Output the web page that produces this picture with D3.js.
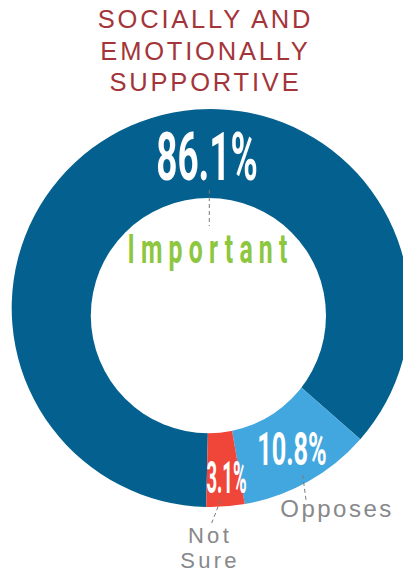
<!DOCTYPE html>
<html>
<head>
<meta charset="utf-8">
<script src="https://cdn.jsdelivr.net/npm/d3@7"></script>
<style>
  html, body { margin: 0; padding: 0; background: #fff; }
  svg { display: block; }
</style>
</head>
<body>
<svg id="chart" width="403" height="572"></svg>
<script>
// Survey answers for "socially and emotionally supportive"
const categories = ["Important", "Opposes", "Not Sure"];
const values = [86.1, 10.8, 3.1];
const colors = ["#03608f", "#42a7de", "#ef4639"];
const titleLines = ["SOCIALLY AND", "EMOTIONALLY", "SUPPORTIVE"];

const svg = d3.select("#chart");

// Title
svg.append("g").selectAll("text")
  .data(titleLines)
  .join("text")
  .attr("x", 205.5)
  .attr("y", (d, i) => 28 + i * 31.6)
  .attr("text-anchor", "middle")
  .attr("font-family", "'Liberation Sans', Arial, sans-serif")
  .attr("font-size", 25.5)
  .attr("letter-spacing", 2.8)
  .attr("fill", "#a3353a")
  .text(d => d);

// Donut
const cx = 210.7, cy = 308, rOuter = 199;
const pie = d3.pie().sort(null).value(d => d)
  .startAngle(Math.PI * 181.3 / 180)
  .endAngle(Math.PI * (181.3 + 360) / 180);
const arcs = pie(values);
const arc = d3.arc().innerRadius(0).outerRadius(rOuter);

const g = svg.append("g").attr("transform", `translate(${cx},${cy})`);
g.selectAll("path")
  .data(arcs)
  .join("path")
  .attr("d", arc)
  .attr("fill", (d, i) => colors[i]);

// Hole of the ring, sitting slightly low in the disc
svg.append("circle")
  .attr("cx", 208.4)
  .attr("cy", 315.6)
  .attr("r", 117.6)
  .attr("fill", "#fff");

// Condensed number labels
const fmt = v => d3.format(".1f")(v) + "%";
function condensed(x, y, size, sx, txt, fill) {
  svg.append("text")
    .attr("transform", `translate(${x},${y}) scale(${sx},1)`)
    .attr("text-anchor", "middle")
    .attr("font-family", "Roboto, 'DejaVu Sans', sans-serif")
    .attr("font-weight", 700)
    .attr("font-size", size)
    .attr("fill", fill)
    .text(txt);
}
condensed(207, 180, 66, 0.56, fmt(values[0]), "#fff");
condensed(292, 465, 46, 0.55, fmt(values[1]), "#fff");
condensed(226.5, 493.3, 44, 0.42, fmt(values[2]), "#fff");

// Leader lines
const leaders = [
  [[209.3, 190], [209.3, 226]],
  [[302.7, 475], [306, 500]],
  [[220.7, 500], [211.7, 523]]
];
svg.append("g").selectAll("line")
  .data(leaders)
  .join("line")
  .attr("x1", d => d[0][0]).attr("y1", d => d[0][1])
  .attr("x2", d => d[1][0]).attr("y2", d => d[1][1])
  .attr("stroke", "#7a7a7a")
  .attr("stroke-width", 1)
  .attr("stroke-dasharray", "4,3");

// Category names
svg.append("text")
  .attr("transform", "translate(210.5,263.3) scale(0.62,1)")
  .attr("text-anchor", "middle")
  .attr("font-family", "Roboto, sans-serif")
  .attr("font-weight", 700)
  .attr("font-size", 40)
  .attr("letter-spacing", 10)
  .attr("fill", "#8dc63f")
  .text(categories[0]);

const grey = "#87888a";
svg.append("text")
  .attr("x", 337)
  .attr("y", 517.3)
  .attr("text-anchor", "middle")
  .attr("font-family", "'Liberation Sans', Arial, sans-serif")
  .attr("font-size", 24)
  .attr("letter-spacing", 2.5)
  .attr("fill", grey)
  .text(categories[1]);

// Two-line label
svg.append("g").selectAll("text")
  .data(categories[2].split(" "))
  .join("text")
  .attr("x", 210)
  .attr("y", (d, i) => 542.5 + i * 25)
  .attr("text-anchor", "middle")
  .attr("font-family", "'Liberation Sans', Arial, sans-serif")
  .attr("font-size", 22)
  .attr("letter-spacing", 3.3)
  .attr("fill", grey)
  .text(d => d);
</script>
</body>
</html>
